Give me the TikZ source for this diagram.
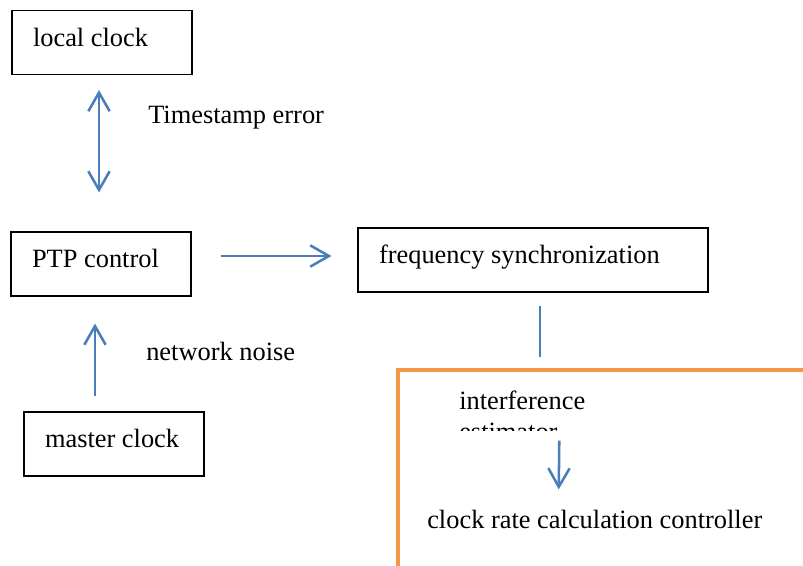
\documentclass[tikz,border=0pt]{standalone}
\usepackage{fontspec}
\setmainfont{Liberation Serif}
\usetikzlibrary{arrows.meta,calc}
\definecolor{linkblue}{HTML}{4A7EBB}
\definecolor{frameorange}{HTML}{F79646}

\begin{document}
\begin{tikzpicture}[x=0.75pt,y=-0.75pt,
  font=\fontsize{19.8}{22.8}\selectfont,
  block/.style={draw,line width=0.8pt,minimum height=48pt,inner xsep=15.75pt,
    inner ysep=0pt,text height=15pt,text depth=9.75pt,align=flush left},
  flow/.style={draw=linkblue,line width=1.9pt,-{Straight Barb[length=14pt,width=16pt]}},
  dflow/.style={flow,{Straight Barb[length=14pt,width=16pt]}-{Straight Barb[length=14pt,width=16pt]}},
  note/.style={inner sep=0pt,anchor=base west}]
  \useasboundingbox (0,0) rectangle (803,565);
  \node[block,text width=103.5pt] (local) at (102,42.5) {local clock};
  \node[block,text width=103.5pt] (ptp) at (101,264) {PTP control};
  \node[block,text width=103.5pt] (master) at (114,444) {master clock};
  \node[block,text width=231pt] (freq) at (533,260) {frequency synchronization};
  \node[draw=frameorange,line width=3pt,minimum width=375pt,minimum height=187.5pt,
    anchor=north west] (ctrl) at (396,368) {};
  \node[note] (tserr) at (148,123) {Timestamp error};
  \node[note] (noise) at (146,360) {network noise};
  \begin{scope}
    \clip (440,380) rectangle (720,430);
    \node[note,align=flush left] (est) at (459,440) {interference\\estimator};
  \end{scope}
  \node[note] (rate) at (427,528) {clock rate calculation controller};
  % connectors
  \draw[dflow] ($(local.south)+(-3,15)$) -- ($(ptp.north)+(-2,-39)$);
  \draw[flow] ($(ptp.east)+(29,-8)$) -- ($(freq.west)+(-26,-4)$);
  \draw[flow] ($(master.north)+(-19,-15)$) -- ($(ptp.south)+(-6,27)$);
  \draw[draw=linkblue,line width=1.9pt] ($(freq.south)+(7,13)$) -- ($(ctrl.north west)+(144,-11)$);
  \draw[flow] ($(est.south)+(37,0)$) -- ($(rate.north)+(-36,-20)$);
\end{tikzpicture}
\end{document}
